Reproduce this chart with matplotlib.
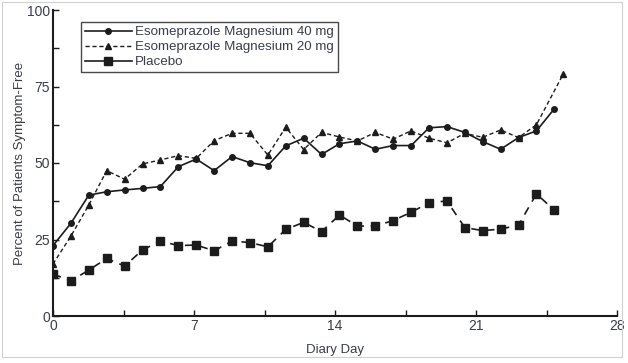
import matplotlib
matplotlib.use("Agg")
import matplotlib.pyplot as plt
from matplotlib.lines import Line2D
from matplotlib.ticker import MultipleLocator

# ---- data ----
step = 28 / 31.5
esome40 = [23.0, 30.3, 39.5, 40.6, 41.2, 41.7, 42.3, 48.8, 51.3, 47.5, 52.1, 50.1, 49.1,
           55.6, 58.1, 52.8, 56.3, 57.2, 54.5, 55.7, 55.7, 61.5, 61.9, 60.0, 57.0, 54.5,
           58.3, 60.5, 67.7]
esome20 = [17.0, 26.1, 36.3, 47.5, 44.7, 49.7, 51.0, 52.4, 51.5, 57.3, 59.7, 59.7, 52.6,
           61.7, 54.4, 60.0, 58.5, 57.2, 60.0, 57.8, 60.5, 58.1, 56.6, 59.7, 58.4, 60.8,
           58.3, 62.5, 79.1]
placebo = [13.7, 11.5, 15.0, 18.8, 16.3, 21.6, 24.5, 23.0, 23.2, 21.3, 24.5, 24.0, 22.6,
           28.3, 30.6, 27.6, 33.0, 29.4, 29.4, 31.2, 33.9, 37.0, 37.6, 28.9, 27.9, 28.4,
           29.7, 39.9, 34.6]
idx40 = list(range(29))
idx20 = list(range(28)) + [28.5]
idxpl = list(range(29))
days40 = [i * step for i in idx40]
days20 = [i * step for i in idx20]
dayspl = [i * step for i in idxpl]

labels = ["Esomeprazole Magnesium 40 mg", "Esomeprazole Magnesium 20 mg", "Placebo"]
xticks = [0, 7, 14, 21, 28]
yticks = [0, 25, 50, 75, 100]

font = ['Liberation Sans Narrow', 'Liberation Sans', 'DejaVu Sans']
plt.rcParams['font.family'] = font

ink = '#1c1c1c'
tcol = '#3b3d4d'

fig = plt.figure(figsize=(6.28, 3.63), dpi=100)
ax = fig.add_axes([53 / 628, 47 / 363, 564 / 628, 306 / 363])

ax.plot(days40, esome40, color=ink, lw=1.2, ls='-', marker='o', ms=4.0, zorder=3)
ax.plot(days20, esome20, color=ink, lw=1.0, ls=(0, (3, 2)), marker='^', ms=4.0, zorder=3)
ax.plot(dayspl, placebo, color=ink, lw=1.2, ls=(0, (5, 4)), marker='s', ms=6.0, zorder=3)

ax.set_xlim(0, 28)
ax.set_ylim(0, 100)
ax.set_xticks(xticks)
ax.set_yticks(yticks)
ax.xaxis.set_minor_locator(MultipleLocator(3.5))
ax.yaxis.set_minor_locator(MultipleLocator(12.5))
ax.tick_params(which='both', direction='in', length=4, width=1.0, color=ink,
               labelsize=10, labelcolor=tcol, pad=2)
for s in ['top', 'right']:
    ax.spines[s].set_visible(False)
for s in ['left', 'bottom']:
    ax.spines[s].set_linewidth(1.5)
    ax.spines[s].set_color(ink)
ax.set_xlabel("Diary Day", fontsize=9.5, color=tcol, labelpad=8)
ax.set_ylabel("Percent of Patients Symptom-Free", fontsize=9.5, color=tcol, labelpad=1)

handles = [
    Line2D([], [], color=ink, lw=1.2, ls='-', marker='o', ms=4.0),
    Line2D([], [], color=ink, lw=1.0, ls=(0, (3, 2)), marker='^', ms=4.0),
    Line2D([], [], color=ink, lw=1.2, ls='-', marker='s', ms=5.5),
]
leg = ax.legend(handles, labels, loc='upper left', bbox_to_anchor=(28 / 564, 1 - 12 / 306),
                fontsize=9.6, frameon=True, fancybox=False, handlelength=3.5,
                handletextpad=0.25, labelspacing=0.2, borderpad=0.3, borderaxespad=0)
leg.get_frame().set_edgecolor(ink)
leg.get_frame().set_linewidth(1.0)
for t in leg.get_texts():
    t.set_color(tcol)

# thin figure border
fig.patches.append(plt.Rectangle((2 / 628, 6 / 363), 620 / 628, 355 / 363, transform=fig.transFigure,
                                 fill=False, edgecolor='#d0d0d0', lw=0.8))

fig.savefig("out.png", dpi=100)
